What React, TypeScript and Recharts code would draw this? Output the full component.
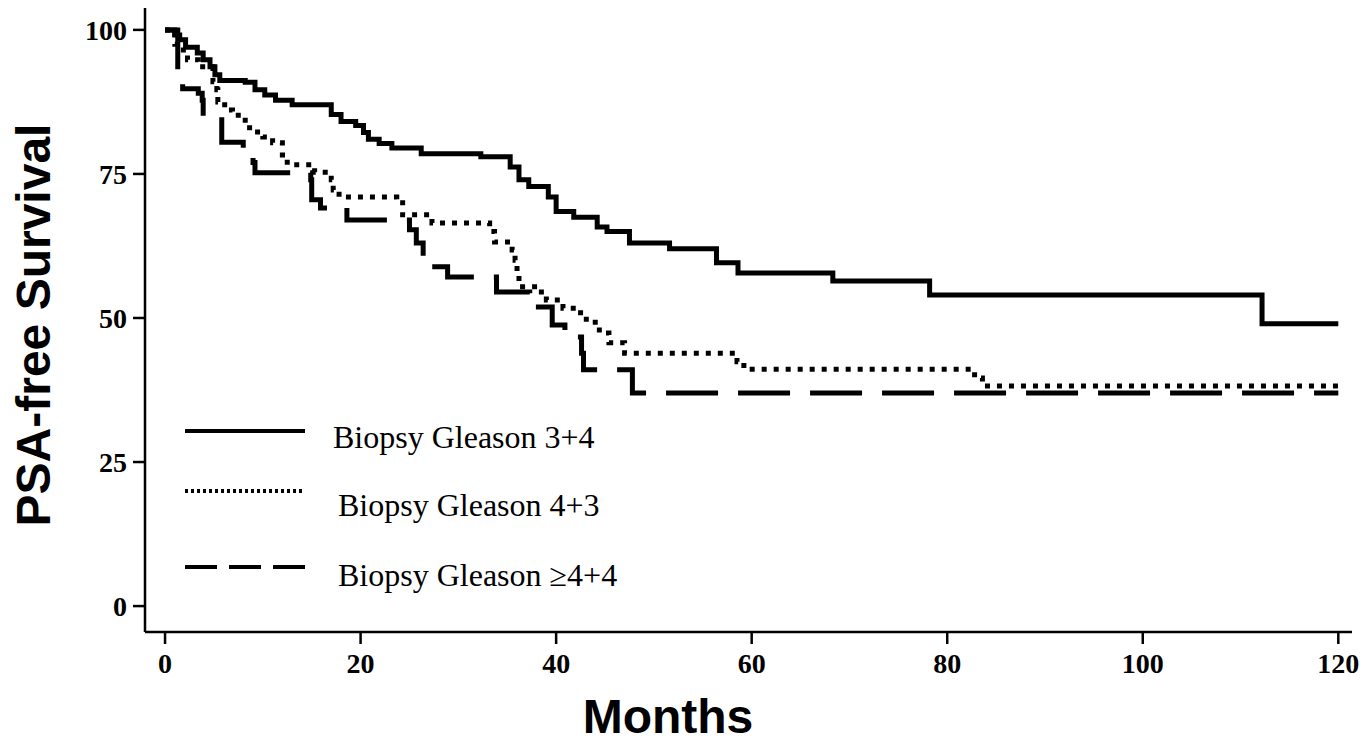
import { Legend, Line, LineChart, XAxis, YAxis } from "recharts";

// Kaplan-Meier steps: [month, PSA-free survival %]
const gleason34: [number, number][] = [
  [0, 100], [1, 99.1], [1.5, 98.3], [2.1, 97], [3.3, 96], [3.9, 94.8], [4.6, 93.6],
  [5.1, 92.2], [5.6, 91.2], [8.2, 90.9], [9.2, 89.6], [10.2, 88.7], [11.3, 87.8],
  [13, 87], [17, 85.3], [18, 84.1], [19.5, 83.4], [20.3, 82.2], [20.8, 81],
  [21.9, 80.3], [23.2, 79.5], [26.2, 78.5], [32.3, 78], [35.3, 76.2], [36.2, 74],
  [37.2, 72.8], [39.2, 71], [40, 68.5], [41.8, 67.5], [44.2, 65.8], [45.2, 65],
  [47.5, 63], [51.6, 62], [56.4, 59.6], [58.6, 57.8], [68.3, 56.4], [78.2, 54],
  [112.2, 49], [120, 49],
];

const gleason43: [number, number][] = [
  [0, 100], [1, 97.5], [1.6, 96.5], [2.3, 94.8], [3.4, 93.6], [4.9, 91], [5.3, 89.6],
  [5.4, 87.5], [6.1, 86.1], [6.9, 85.2], [8.2, 83], [9.2, 82.3], [10, 81.4],
  [11, 80.4], [12, 78.3], [12.5, 76.6], [15.3, 75.3], [17, 74], [17.2, 72.2],
  [17.8, 71], [23.7, 70], [24.3, 67.9], [27.3, 66.5], [33.2, 65], [33.7, 63.2],
  [35.5, 61.8], [35.8, 60], [36, 57.8], [36.2, 55.4], [38.2, 54.5], [39, 53.1],
  [40.7, 51.7], [42.5, 49.8], [44, 47.9], [45, 47.4], [45.4, 45.7], [47, 43.9],
  [58.5, 42.4], [59.2, 41.1], [82.8, 39.6], [83.6, 38.2], [120, 38.2],
];

const gleason44: [number, number][] = [
  [0, 100], [1.3, 93], [1.8, 89.8], [3.4, 89], [3.8, 87.8], [3.9, 85], [5.8, 80.5],
  [8, 79.5], [9, 77], [9.2, 75.2], [14.9, 74], [15, 70.5], [15.9, 69.1], [18.6, 67],
  [25, 65.3], [25.7, 63], [26.4, 60.6], [26.6, 58.9], [28.9, 57.1], [33.9, 54.5],
  [37.3, 51.9], [39.6, 48.8], [40.9, 46.7], [42.6, 43.9], [42.8, 41], [47.8, 37],
  [120, 37],
];

const xTicks = [0, 20, 40, 60, 80, 100, 120];
const yTicks = [0, 25, 50, 75, 100];

const seriesNames = [
  "Biopsy Gleason 3+4",
  "Biopsy Gleason 4+3",
  "Biopsy Gleason \u22654+4",
];

const toRows = (pts: [number, number][]) => pts.map(([t, s]) => ({ t, s }));

const tickFont = {
  fill: "#000",
  fontSize: 28,
  fontWeight: "bold",
  fontFamily: "'Liberation Serif', 'Times New Roman', serif",
};

const titleFont = {
  fill: "#000",
  fontSize: 48,
  fontWeight: "bold",
  fontFamily: "'Liberation Sans', Arial, sans-serif",
};

// legend rows: line y, text x, text baseline (relative to legend box)
const legendRows = [
  { lineY: 18, textX: 148, textY: 35, dash: undefined },
  { lineY: 78, textX: 153, textY: 103, dash: "3 3" },
  { lineY: 154, textX: 153, textY: 173, dash: "32 12" },
];

function KMLegend() {
  return (
    <svg width={460} height={190}>
      {seriesNames.map((name, i) => (
        <g key={name}>
          <line
            x1={0}
            x2={120}
            y1={legendRows[i].lineY}
            y2={legendRows[i].lineY}
            stroke="#000"
            strokeWidth={4}
            strokeDasharray={legendRows[i].dash}
          />
          <text
            x={legendRows[i].textX}
            y={legendRows[i].textY}
            fontSize={32}
            fontFamily="'Liberation Serif', 'Times New Roman', serif"
            fill="#000"
          >
            {name}
          </text>
        </g>
      ))}
    </svg>
  );
}

export default function App() {
  return (
    <div style={{ position: "absolute", left: 0, top: 0, background: "#fff" }}>
      <LineChart
        width={1372}
        height={743}
        margin={{ top: 8, right: 20, bottom: 0, left: 0 }}
      >
        <XAxis
          type="number"
          dataKey="t"
          domain={[-2.05, 121.4]}
          allowDataOverflow
          ticks={xTicks}
          tickSize={12}
          tickMargin={9}
          height={111}
          stroke="#000"
          strokeWidth={2.5}
          tick={tickFont}
          tickLine={{ stroke: "#000", strokeWidth: 2.5 }}
          label={{
            content: () => (
              <text x={668} y={733} textAnchor="middle" {...titleFont}>
                Months
              </text>
            ),
          }}
        />
        <YAxis
          type="number"
          dataKey="s"
          domain={[-4.5, 103.8]}
          allowDataOverflow
          ticks={yTicks}
          tickSize={12}
          tickMargin={6}
          width={145}
          stroke="#000"
          strokeWidth={2.5}
          tick={tickFont}
          tickLine={{ stroke: "#000", strokeWidth: 2.5 }}
          label={{
            content: () => (
              <text
                x={50}
                y={325}
                textAnchor="middle"
                transform="rotate(-90 50 325)"
                {...titleFont}
              >
                PSA-free Survival
              </text>
            ),
          }}
        />
        <Legend
          layout="vertical"
          align="center"
          verticalAlign="middle"
          content={() => <KMLegend />}
          wrapperStyle={{ left: 185, top: 413, width: 460, height: 190 }}
        />
        <Line
          data={toRows(gleason34)}
          dataKey="s"
          name={seriesNames[0]}
          type="stepAfter"
          stroke="#000"
          strokeWidth={5}
          dot={false}
          isAnimationActive={false}
        />
        <Line
          data={toRows(gleason43)}
          dataKey="s"
          name={seriesNames[1]}
          type="stepAfter"
          stroke="#000"
          strokeWidth={5}
          strokeDasharray="5 7"
          dot={false}
          isAnimationActive={false}
        />
        <Line
          data={toRows(gleason44)}
          dataKey="s"
          name={seriesNames[2]}
          type="stepAfter"
          stroke="#000"
          strokeWidth={5}
          strokeDasharray="52 20"
          dot={false}
          isAnimationActive={false}
        />
      </LineChart>
    </div>
  );
}
